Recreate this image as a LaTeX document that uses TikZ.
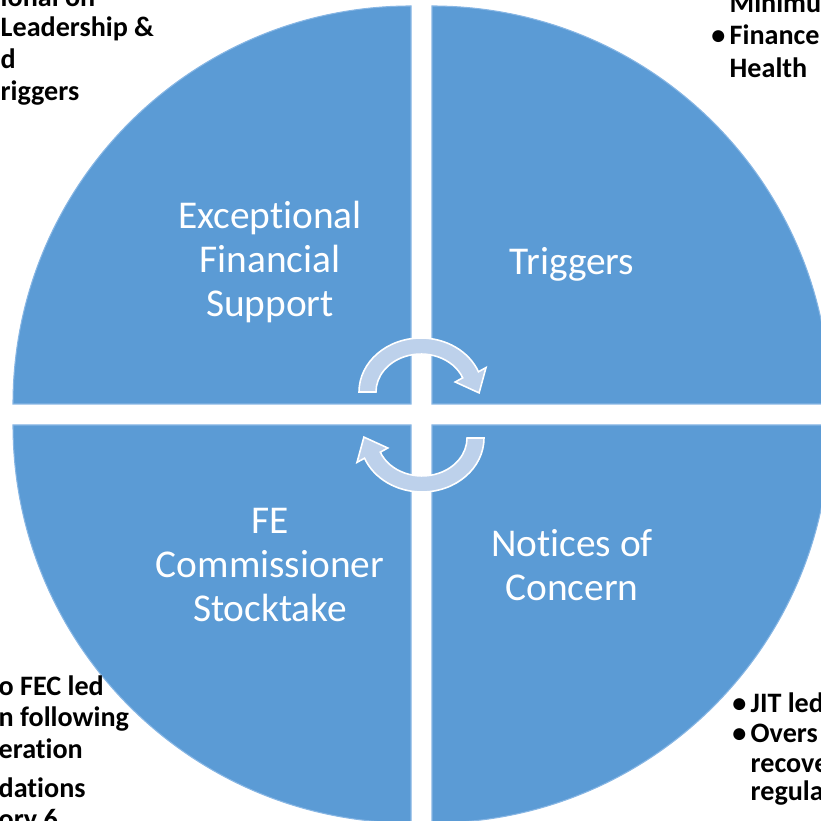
\documentclass[tikz,border=0pt]{standalone}
\usepackage{fontspec}
\setmainfont{Carlito}[Ligatures=NoCommon]

\definecolor{quadblue}{RGB}{91,155,213}
\definecolor{quadedge}{RGB}{135,182,228}
\definecolor{arrowblue}{RGB}{189,209,235}
\newcommand\bul{\llap{\textbullet\hspace{1.2pt}}}

\tikzset{
  quad/.style={fill=quadblue, draw=quadedge, line width=0.3pt},
  cyclearrow/.style={fill=arrowblue, draw=white, line width=0.45pt},
  inner/.style={text=white, align=center, font=\fontsize{11.2}{12.5}\selectfont},
  outer/.style={anchor=base west, inner sep=0pt, font=\bfseries\fontsize{8}{9}\selectfont},
}

\begin{document}
\begin{tikzpicture}[x=0.01cm, y=0.01cm]
    \useasboundingbox (0,0) rectangle (821,821);
    \clip (0,0) rectangle (821,821);
    % four quarter discs
    \draw[quad] (411,417) -- (13,417) arc[start angle=180, end angle=90, radius=398] -- cycle;
    \draw[quad] (432,417) -- (432,815) arc[start angle=90, end angle=0, radius=398] -- cycle;
    \draw[quad] (411,396) -- (13,396) arc[start angle=180, end angle=270, radius=398] -- cycle;
    \draw[quad] (432,396) -- (830,396) arc[start angle=0, end angle=-90, radius=398] -- cycle;
    \node[inner] (efs) at (270,559) {Exceptional\\Financial\\Support};
    \node[inner] (trig) at (572,557) {Triggers};
    \node[inner] (fec) at (270,256) {FE\\Commissioner\\Stocktake};
    \node[inner] (noc) at (572,256) {Notices of\\Concern};
    % cycle arrows
    \begin{scope}[shift={(421,429)}]
        \draw[cyclearrow] (-62,0) arc[start angle=180, end angle=22, x radius=62, y radius=54]
            -- (65,24.4) -- (58.1,-0.9) -- (34.2,10.0) -- (41.7,14.2)
            arc[start angle=22, end angle=180, x radius=45, y radius=38] -- cycle;
    \end{scope}
    \begin{scope}[shift={(422,383)}, rotate=180]
        \draw[cyclearrow] (-62,0) arc[start angle=180, end angle=22, x radius=62, y radius=54]
            -- (65,24.4) -- (58.1,-0.9) -- (34.2,10.0) -- (41.7,14.2)
            arc[start angle=22, end angle=180, x radius=45, y radius=38] -- cycle;
    \end{scope}
    % text in the corners
    \node[outer] (tl1) at (0,814) {ional on};
    \node[outer] (tl2) at (0,784) {Leadership \&};
    \node[outer] (tl3) at (0,752) {d};
    \node[outer] (tl4) at (0,720) {riggers};
    \node[outer] (tr1) at (729,808) {Minimu};
    \node[outer] (tr2) at (729,776) {\bul Finance};
    \node[outer] (tr3) at (729,743) {Health};
    \node[outer] (bl1) at (-2,125) {o FEC led};
    \node[outer] (bl2) at (-2,94) {n following};
    \node[outer] (bl3) at (-2,62) {eration};
    \node[outer] (bl4) at (-2,24) {dations};
    \node[outer] (bl5) at (-2,-8) {ory 6};
    \node[outer] (br1) at (750,108) {\bul JIT led};
    \node[outer] (br2) at (750,78) {\bul Overs};
    \node[outer] (br3) at (750,48) {recove};
    \node[outer] (br4) at (750,21) {regula};
\end{tikzpicture}
\end{document}
